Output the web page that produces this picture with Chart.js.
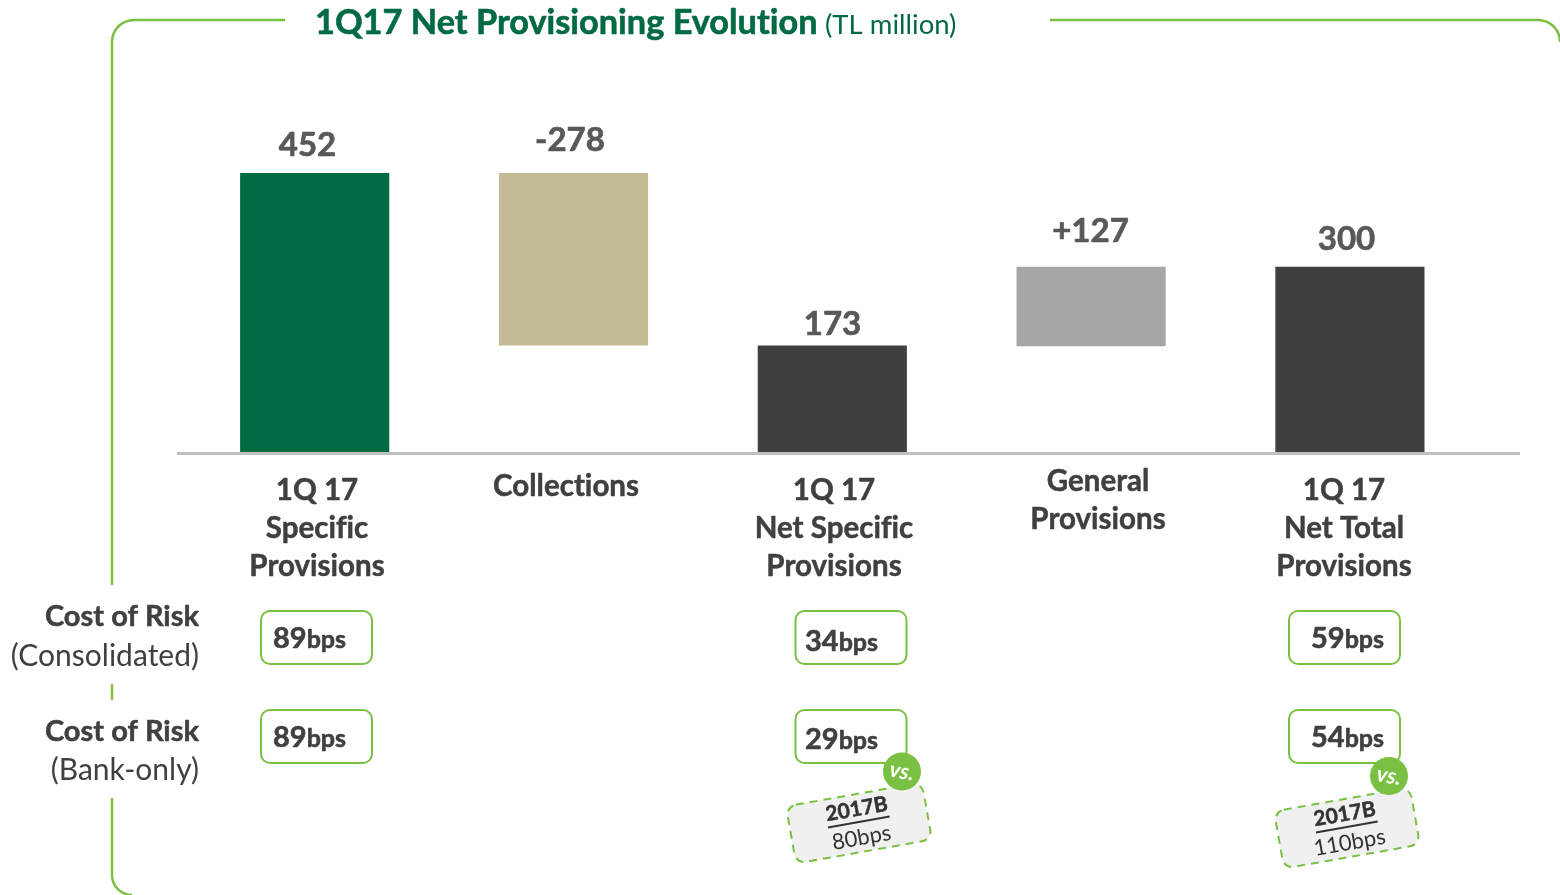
<!DOCTYPE html>
<html><head><meta charset="utf-8">
<style>html,body{margin:0;padding:0;background:#fff;overflow:hidden}#w{position:relative;width:1560px;height:895px}</style>
<script src="https://cdn.jsdelivr.net/npm/chart.js@4"></script></head>
<body><div id="w"><canvas id="c" width="1560" height="895"></canvas></div>
<script>
const categories=[["1Q 17","Specific","Provisions"],["Collections"],["1Q 17","Net Specific","Provisions"],["General","Provisions"],["1Q 17","Net Total","Provisions"]];
const barStart=[0,174,0,173,0];
const barEnd=[452,452,173,300,300];
const valueLabels=["452","-278","173","+127","300"];
const barColors=["#006a43","#c4bc96","#404040","#a6a6a6","#404040"];
const riskConsolidated=["89","","34","","59"];
const riskBankOnly=["89","","29","","54"];
const budget=["","","80bps","","110bps"];
const budgetTitle="2017B";
const unit="bps";
const GREEN="#7ac143",FONT="Lato, Carlito, sans-serif";
const valY=[145,140,324,231,239],valX=[307.5,570,832.5,1090.5,1346.5];
const catX=[317,566,834,1098,1344],catY=[490,486,490,481,490];
const r1=[[261,273,639],null,[795.5,805,642],null,[1289,1311,639]];
const r2=[[261,273,738],null,[795.5,805,740],null,[1289,1311,738]];
const tilt=[null,null,[859,823,902,771.5],null,[1347,828,1389,776]];
function T(g,s,x,y,font,col,al,heavy){g.font=font+" "+FONT;g.letterSpacing="0.01px";g.fillStyle=col;g.textAlign=al||"center";g.textBaseline="middle";g.fillText(s,x,y);
 if(heavy){g.strokeStyle=col;g.lineWidth=heavy;g.lineJoin="round";g.setLineDash([]);g.strokeText(s,x,y);}}
function box(g,x,y,w,h,r){g.beginPath();g.roundRect(x,y,w,h,r);}
const overlay={id:"overlay",afterDatasetsDraw(ch){const g=ch.ctx;g.save();
 g.strokeStyle=GREEN;g.lineWidth=2.5;g.lineCap="butt";
 g.beginPath();g.moveTo(285,20);g.lineTo(134,20);g.arcTo(112,20,112,42,22);g.lineTo(112,585);g.moveTo(112,684);g.lineTo(112,700);g.moveTo(112,798);g.lineTo(112,875);g.arcTo(112,895,132,895,20);g.stroke();
 g.beginPath();g.moveTo(1050,20);g.lineTo(1540,20);g.arcTo(1560,20,1560,40,22);g.stroke();
 T(g,"1Q17 Net Provisioning Evolution",315,23,"bold 34.3px","#006a43","left",0.6);
 T(g,"(TL million)",825,25,"27.5px","#006a43","left");
 g.strokeStyle="#bfbfbf";g.lineWidth=3;g.beginPath();g.moveTo(177,453.5);g.lineTo(1520,453.5);g.stroke();
 valueLabels.forEach((s,i)=>T(g,s,valX[i],valY[i],"bold 33px","#595959","center",0.7));
 categories.forEach((l,i)=>l.forEach((s,j)=>T(g,s,catX[i],catY[i]+j*38,"bold 29.5px","#404040","center",0.5)));
 T(g,"Cost of Risk",199,617,"bold 29px","#404040","right",0.5);
 T(g,"(Consolidated)",199,656,"30px","#404040","right");
 T(g,"Cost of Risk",199,732,"bold 29px","#404040","right",0.5);
 T(g,"(Bank-only)",199,770,"30px","#404040","right");
 [[riskConsolidated,r1,611],[riskBankOnly,r2,710]].forEach(([vals,pos,y])=>vals.forEach((v,i)=>{if(!v)return;const p=pos[i];
  g.strokeStyle=GREEN;g.lineWidth=2;box(g,p[0],y,111,53,9);g.stroke();
  T(g,v,p[1],p[2],"bold 29px","#404040","left",0.6);const w=g.measureText(v).width;
  T(g,unit,p[1]+w,p[2]+1,"bold 25px","#404040","left",0.6);}));
 tilt.forEach((t,i)=>{if(!t)return;
  g.save();g.translate(t[0],t[1]);g.rotate(-10*Math.PI/180);
  g.fillStyle="#f0f0f0";box(g,-69,-29,138,58,10);g.fill();
  g.strokeStyle=GREEN;g.lineWidth=2;g.setLineDash([8,6]);box(g,-69,-29,138,58,10);g.stroke();g.setLineDash([]);
  T(g,budgetTitle,0,-14,"bold 21px","#333333","center",0.5);
  const w=g.measureText(budgetTitle).width;g.strokeStyle="#333333";g.lineWidth=2;g.beginPath();g.moveTo(-w/2,-1);g.lineTo(w/2,-1);g.stroke();
  T(g,budget[i],0,15,"22px","#333333");
  g.restore();
  g.fillStyle=GREEN;g.beginPath();g.arc(t[2],t[3],19,0,Math.PI*2);g.fill();
  g.save();g.translate(t[2],t[3]);g.rotate(10*Math.PI/180);T(g,"vs.",0,0,"italic bold 22px","#ffffff");g.restore();
 });
 g.restore();}};
new Chart(document.getElementById("c"),{type:"bar",
 data:{labels:categories.map(c=>c.join(" ")),datasets:[{data:barStart.map((s,i)=>[s,barEnd[i]]),backgroundColor:barColors,borderWidth:0,barThickness:148.5}]},
 options:{responsive:false,animation:false,events:[],
  layout:{padding:{left:185.3,right:80.7,top:173,bottom:442}},
  plugins:{legend:{display:false},tooltip:{enabled:false},title:{display:false}},
  scales:{x:{display:false,offset:true},y:{display:false,min:0,max:452}}},
 plugins:[overlay]});
</script></body></html>
